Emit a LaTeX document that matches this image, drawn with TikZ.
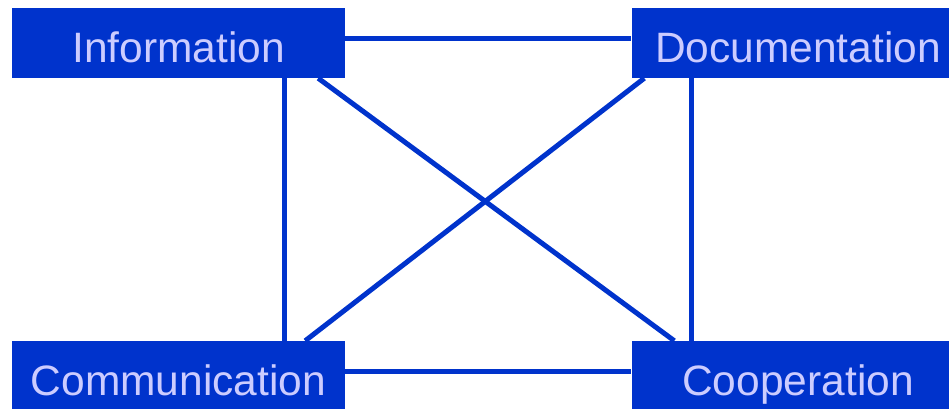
\documentclass[tikz,border=0pt]{standalone}
\usepackage{fontspec}
\setmainfont{Liberation Sans}
\usepackage{tikz}
\definecolor{boxblue}{RGB}{0,51,204}
\definecolor{lilac}{RGB}{204,204,255}

\begin{document}
\begin{tikzpicture}[x=1pt,y=-1pt,
  topic/.style={fill=boxblue,inner sep=0pt,minimum width=333pt,minimum height=70pt,
     text=lilac,font=\fontsize{42.5}{50}\selectfont,text height=38pt,text depth=0pt},
  link/.style={draw=boxblue,line width=5pt}]
\clip (0,0) rectangle (949,408);
\node[topic] (info) at (178.5,43) {Information};
\node[topic] (doc) at (798,43) {Documentation};
\node[topic] (comm) at (178.5,376) {Communication};
\node[topic] (coop) at (798,376) {Cooperation};
\draw[link] ([yshift=4.5pt]info.east)--([yshift=4.5pt]doc.west);
\draw[link] ([yshift=5pt]comm.east)--([yshift=5pt]coop.west);
\draw[link] ([xshift=-60.5pt]info.south east)--([xshift=-60.5pt]comm.north east);
\draw[link] ([xshift=60pt]doc.south west)--([xshift=60pt]coop.north west);
\draw[link] ([xshift=-27pt]info.south east)--([xshift=43pt]coop.north west);
\draw[link] ([xshift=13pt]doc.south west)--([xshift=-40pt]comm.north east);
\end{tikzpicture}
\end{document}
